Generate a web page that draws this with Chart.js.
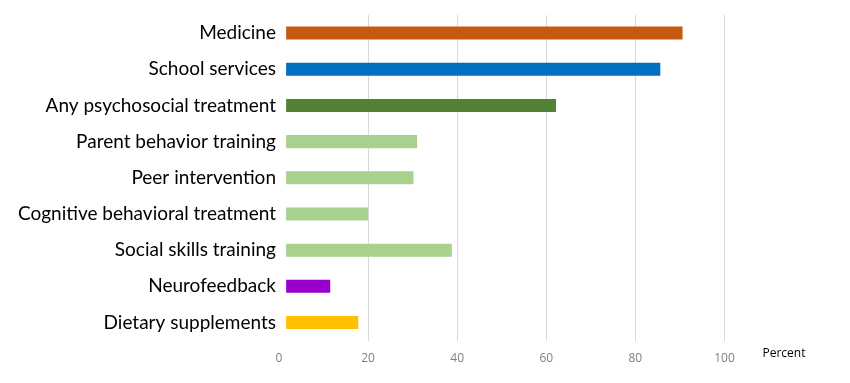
<!DOCTYPE html>
<html>
<head>
<meta charset="utf-8">
<script src="https://cdn.jsdelivr.net/npm/chart.js@4/dist/chart.umd.min.js"></script>
<style>
  html, body { margin: 0; padding: 0; background: #fff; }
  #wrap { width: 850px; height: 383px; position: relative; }
</style>
</head>
<body>
<div id="wrap"><canvas id="c" width="850" height="383"></canvas></div>
<script>
const categories = [
  "Medicine",
  "School services",
  "Any psychosocial treatment",
  "Parent behavior training",
  "Peer intervention",
  "Cognitive behavioral treatment",
  "Social skills training",
  "Neurofeedback",
  "Dietary supplements"
];
const percentValues = [90.6, 85.6, 62.2, 31.0, 30.2, 20.0, 38.8, 11.5, 17.8];
const barColors = ["#C55A11", "#0070C0", "#548235", "#A9D18E", "#A9D18E", "#A9D18E", "#A9D18E", "#9900CC", "#FFC000"];
const xTicks = [0, 20, 40, 60, 80, 100];
const axisTitle = "Percent";

const percentLabel = {
  id: 'percentLabel',
  afterDraw(chart) {
    const ctx = chart.ctx;
    const xs = chart.scales.x;
    ctx.save();
    ctx.font = '12px "Open Sans", sans-serif';
    ctx.fillStyle = '#000';
    ctx.textBaseline = 'middle';
    ctx.textAlign = 'left';
    ctx.fillText(axisTitle, xs.getPixelForValue(100) + 38, 354);
    ctx.restore();
  }
};

new Chart(document.getElementById('c'), {
  type: 'bar',
  data: {
    labels: categories,
    datasets: [{
      data: percentValues,
      backgroundColor: barColors,
      borderWidth: 0,
      base: 1.6,
      barPercentage: 0.36,
      categoryPercentage: 1.0
    }]
  },
  options: {
    indexAxis: 'y',
    responsive: false,
    animation: false,
    layout: { padding: { top: 15, right: 81, bottom: 6, left: 0 } },
    plugins: { legend: { display: false }, tooltip: { enabled: false } },
    scales: {
      x: {
        min: 0,
        max: 110,
        afterBuildTicks(scale) { scale.ticks = xTicks.map(v => ({ value: v })); },
        grid: {
          color: '#d9d9d9',
          lineWidth: (c) => (c.tick && c.tick.value === 0 ? 0 : 1),
          drawTicks: false
        },
        border: { display: false },
        ticks: {
          padding: 11,
          color: '#7f7f7f',
          font: { family: '"Open Sans", sans-serif', size: 12 }
        }
      },
      y: {
        afterFit(scale) { scale.width = 279; },
        grid: { display: false, drawTicks: false },
        border: { display: false },
        ticks: {
          padding: 3,
          color: '#000',
          font: { family: 'Lato, sans-serif', size: 19 }
        }
      }
    }
  },
  plugins: [percentLabel]
});
</script>
</body>
</html>
